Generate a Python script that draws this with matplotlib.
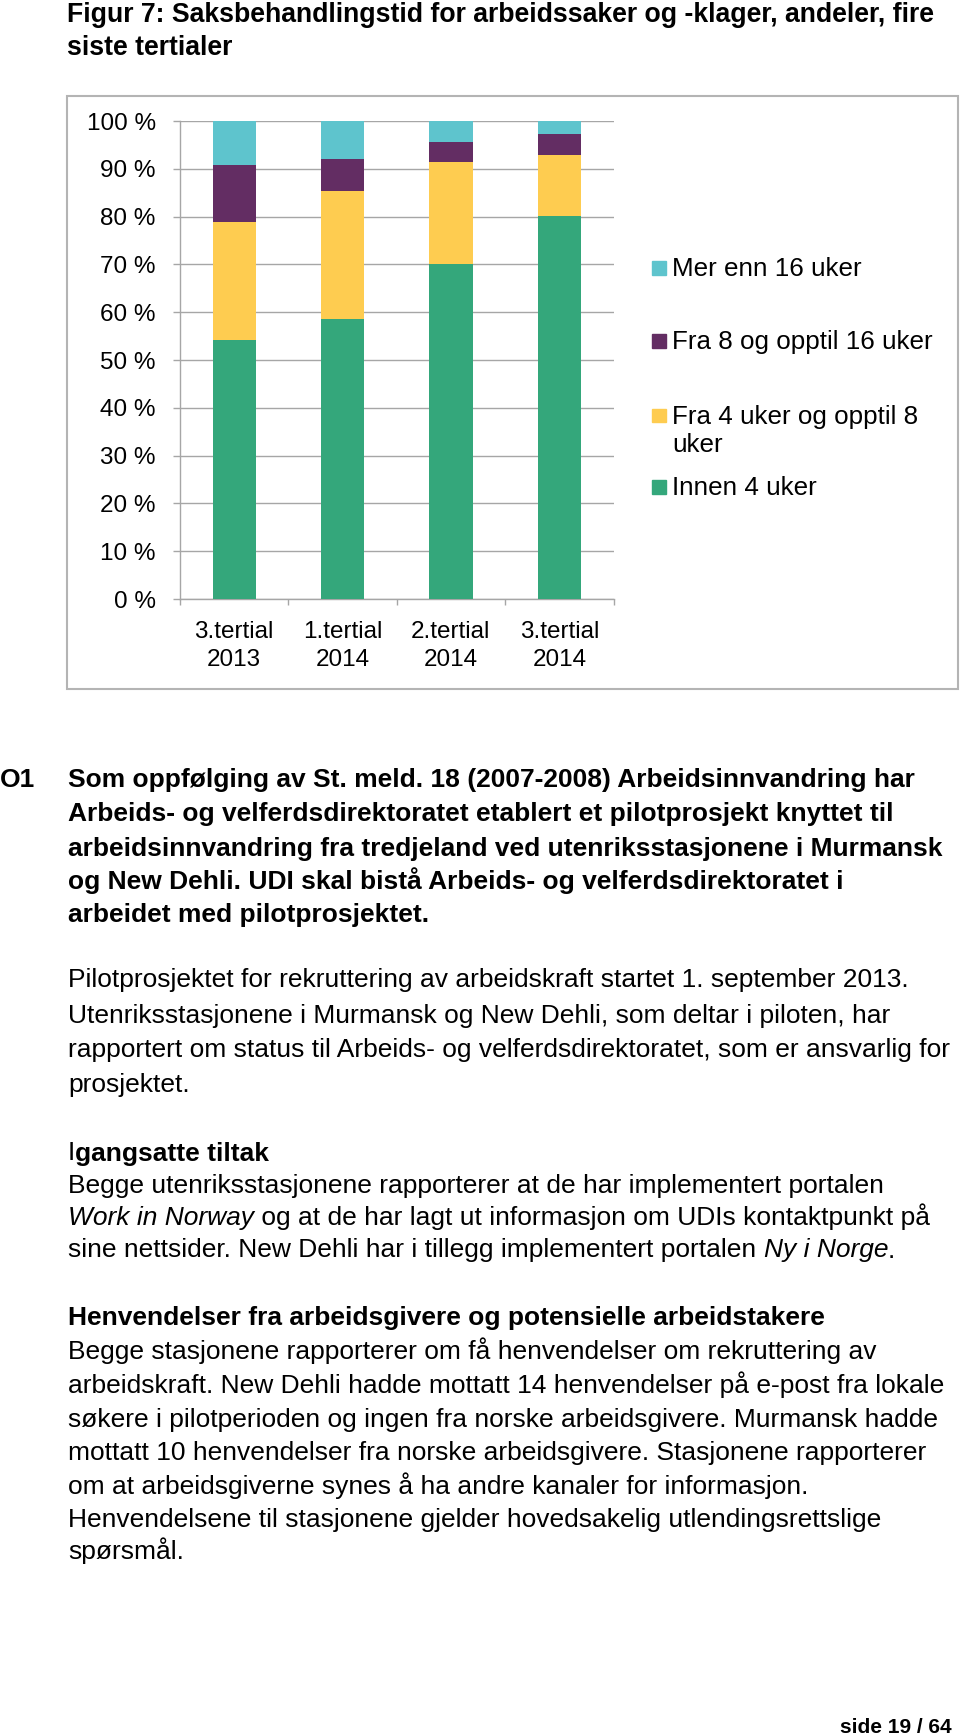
import matplotlib.pyplot as plt
from matplotlib.patches import Rectangle

plt.rcParams['font.family'] = ['Liberation Sans', 'DejaVu Sans']

W, H = 960, 1735

# chart data (andeler i prosent)
categories = ['3.tertial\n2013', '1.tertial\n2014', '2.tertial\n2014', '3.tertial\n2014']
innen_4_uker = [54.2, 58.6, 70.1, 80.1]
fra_4_til_8 = [24.7, 26.7, 21.3, 12.8]
fra_8_til_16 = [11.8, 6.8, 4.3, 4.3]
mer_enn_16 = [9.3, 7.9, 4.3, 2.8]
series_labels = ['Innen 4 uker', 'Fra 4 uker og opptil 8\nuker',
                 'Fra 8 og opptil 16 uker', 'Mer enn 16 uker']
series_colors = ['#34a77b', '#fecc50', '#632d63', '#5ec4cd']
y_ticks = [0, 10, 20, 30, 40, 50, 60, 70, 80, 90, 100]
y_tick_labels = [f'{v} %' for v in y_ticks]

GRID = '#a6a6a6'


def fx(px):
    return px / W


def fy(py):
    return 1 - py / H


fig = plt.figure(figsize=(W / 100, H / 100), dpi=100)
renderer = fig.canvas.get_renderer()

# chart frame
fig.add_artist(Rectangle((fx(67), fy(689)), fx(958) - fx(67), fy(96) - fy(689),
                         transform=fig.transFigure, fill=False,
                         edgecolor='#b4b4b4', lw=1.5))

ax = fig.add_axes([fx(180), fy(599), fx(613.5) - fx(180), fy(121) - fy(599)])
series = [innen_4_uker, fra_4_til_8, fra_8_til_16, mer_enn_16]
x = list(range(len(categories)))
bottom = [0.0] * len(categories)
for vals, col, lab in zip(series, series_colors, series_labels):
    ax.bar(x, vals, width=0.4, bottom=bottom, color=col, label=lab, zorder=3)
    bottom = [b + v for b, v in zip(bottom, vals)]

ax.set_xlim(-0.5, len(categories) - 0.5)
ax.set_ylim(0, 100)
ax.set_yticks(y_ticks)
ax.set_yticklabels(y_tick_labels)
ax.yaxis.grid(True, color=GRID, lw=1.0, zorder=0)
ax.set_axisbelow(True)
ax.tick_params(axis='y', length=5, color=GRID, width=1.0, pad=12.5, labelsize=17.5)
ax.set_xticks(x)
ax.set_xticklabels(categories, linespacing=1.35)
ax.set_xticks([i - 0.5 for i in range(len(categories) + 1)], minor=True)
ax.tick_params(axis='x', which='major', length=0, pad=16, labelsize=17.5)
ax.tick_params(axis='x', which='minor', length=4.5, color=GRID, width=1.0)
for s in ['top', 'right']:
    ax.spines[s].set_visible(False)
for s in ['left', 'bottom']:
    ax.spines[s].set_color(GRID)
    ax.spines[s].set_linewidth(1.0)

# legend, drawn by hand to keep Excel's even spacing
handles, labels = ax.get_legend_handles_labels()
leg_y = [268, 341, 415.5, 487]
for (h, lab), yc in zip(list(zip(handles, labels))[::-1], leg_y):
    fig.add_artist(Rectangle((fx(652), fy(yc + 7)), fx(13.5), 13.5 / H,
                             transform=fig.transFigure,
                             color=h.patches[0].get_facecolor()))
    extra = 28 * lab.count('\n')  # baseline is taken from the last line
    fig.text(fx(672), fy(yc + 8 + extra), lab, fontsize=18.7, va='baseline',
             ha='left', linespacing=1.2)


def rich(x0, yc, parts, size=19.0):
    xp = x0
    for txt, kw in parts:
        t = fig.text(fx(xp), fy(yc + 8.5), txt, fontsize=size, va='baseline',
                     ha='left', **kw)
        xp += t.get_window_extent(renderer=renderer).width


B = {'weight': 'bold'}
N = {}
I = {'style': 'italic'}

# title
rich(67, 13.3, [('Figur 7: Saksbehandlingstid for arbeidssaker og -klager, andeler, fire', B)], 19.2)
rich(67, 46.7, [('siste tertialer', B)], 19.2)

body = [
    (778.3, [('Som oppfølging av St. meld. 18 (2007-2008) Arbeidsinnvandring har', B)]),
    (812.7, [('Arbeids- og velferdsdirektoratet etablert et pilotprosjekt knyttet til', B)]),
    (847.3, [('arbeidsinnvandring fra tredjeland ved utenriksstasjonene i Murmansk', B)]),
    (880.5, [('og New Dehli. UDI skal bistå Arbeids- og velferdsdirektoratet i', B)]),
    (913.5, [('arbeidet med pilotprosjektet.', B)]),
    (978.5, [('Pilotprosjektet for rekruttering av arbeidskraft startet 1. september 2013.', N)]),
    (1014, [('Utenriksstasjonene i Murmansk og New Dehli, som deltar i piloten, har', N)]),
    (1048.5, [('rapportert om status til Arbeids- og velferdsdirektoratet, som er ansvarlig for', N)]),
    (1083, [('prosjektet.', N)]),
    (1152, [('I', N), ('gangsatte tiltak', B)]),
    (1185, [('Begge utenriksstasjonene rapporterer at de har implementert portalen', N)]),
    (1217, [('Work in Norway', I), (' og at de har lagt ut informasjon om UDIs kontaktpunkt på', N)]),
    (1249, [('sine nettsider. New Dehli har i tillegg implementert portalen ', N),
            ('Ny i Norge', I), ('.', N)]),
    (1317, [('Henvendelser fra arbeidsgivere og potensielle arbeidstakere', B)]),
    (1351, [('Begge stasjonene rapporterer om få henvendelser om rekruttering av', N)]),
    (1384.5, [('arbeidskraft. New Dehli hadde mottatt 14 henvendelser på e-post fra lokale', N)]),
    (1418, [('søkere i pilotperioden og ingen fra norske arbeidsgivere. Murmansk hadde', N)]),
    (1451.5, [('mottatt 10 henvendelser fra norske arbeidsgivere. Stasjonene rapporterer', N)]),
    (1485, [('om at arbeidsgiverne synes å ha andre kanaler for informasjon.', N)]),
    (1518, [('Henvendelsene til stasjonene gjelder hovedsakelig utlendingsrettslige', N)]),
    (1550.5, [('spørsmål.', N)]),
]
for yc, parts in body:
    rich(68, yc, parts)

rich(0, 778.3, [('O1', B)])

fig.text(fx(952), fy(1732.5), 'side 19 / 64', fontsize=15, weight='bold',
         ha='right', va='baseline')

fig.savefig('out.png', dpi=100)
